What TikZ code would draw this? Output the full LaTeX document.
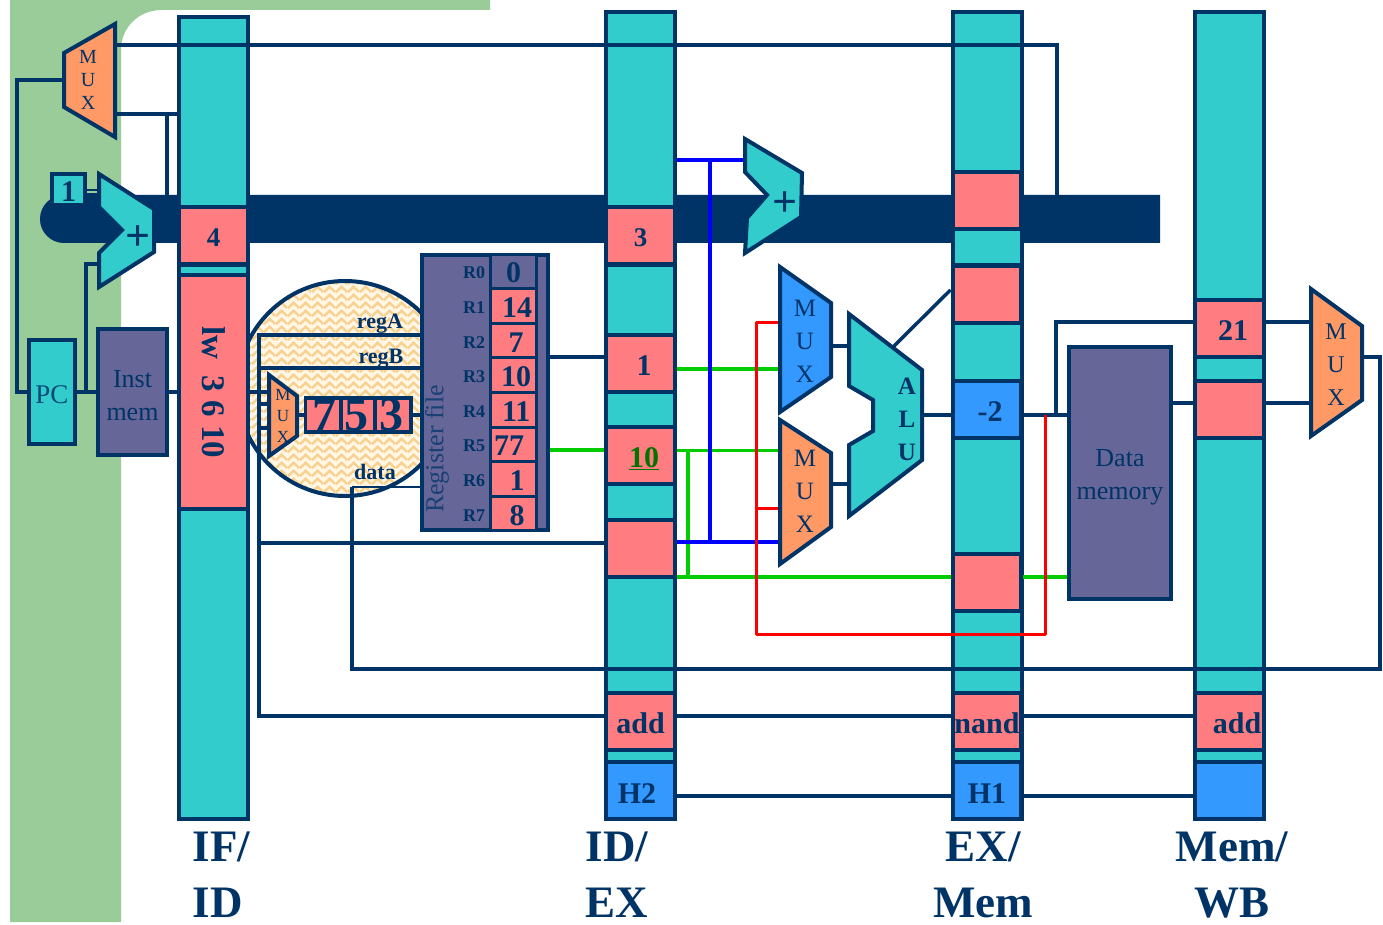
\documentclass[tikz,border=0pt]{standalone}
\usepackage{fontspec}
\setmainfont{Liberation Serif}
\usepackage{xcolor}
\usetikzlibrary{patterns}
\definecolor{PipeNavy}{RGB}{0,51,102}
\definecolor{PipeTeal}{RGB}{51,204,204}
\definecolor{PipeRose}{RGB}{255,124,128}
\definecolor{PipeOrange}{RGB}{255,153,102}
\definecolor{PipeBlue}{RGB}{51,153,255}
\definecolor{PipeSlate}{RGB}{102,102,153}
\definecolor{PipeSage}{RGB}{153,204,153}
\definecolor{PipeCream}{RGB}{255,246,230}
\definecolor{PipeWeave}{RGB}{249,208,140}
\definecolor{PipeGreen}{RGB}{0,204,0}
\newcommand{\fs}[2]{\fontsize{#1}{#2}\selectfont}
\pgfdeclarepatternformonly{weave}{\pgfqpoint{0pt}{0pt}}{\pgfqpoint{12pt}{8pt}}{\pgfqpoint{12pt}{8pt}}{
  \pgfsetlinewidth{2.6pt}
  \pgfpathmoveto{\pgfqpoint{0pt}{1pt}}\pgfpathlineto{\pgfqpoint{6pt}{7pt}}\pgfpathlineto{\pgfqpoint{12pt}{1pt}}
  \pgfusepath{stroke}}

\begin{document}
\begin{tikzpicture}[
    x=1pt, y=-1pt,
    latch/.style={rectangle, draw=PipeNavy, line width=4pt, fill=PipeTeal, inner sep=0pt, minimum width=69pt},
    cell/.style={rectangle, draw=PipeNavy, line width=4pt, inner sep=0pt, minimum width=69pt, minimum height=57pt,
                 text=PipeNavy, text height=25pt, text depth=0pt, font=\bfseries\fs{30}{30}},
    redcell/.style={cell, fill=PipeRose},
    bluecell/.style={cell, fill=PipeBlue},
    slatebox/.style={rectangle, draw=PipeNavy, line width=4pt, fill=PipeSlate, inner sep=0pt, align=center,
                     text=PipeNavy, font=\fs{26}{33}},
    regcell/.style={rectangle, draw=PipeNavy, line width=3pt, fill=PipeRose, inner sep=0pt, minimum width=46pt,
                    minimum height=34.6pt, text=PipeNavy, text height=23pt, text depth=0pt, font=\bfseries\fs{30}{30}},
    regname/.style={text=PipeNavy, inner sep=0pt, font=\bfseries\fs{18}{18}},
    opcell/.style={rectangle, draw=PipeNavy, line width=3.5pt, fill=PipeRose, inner sep=0pt, minimum height=34pt,
                   text=PipeNavy, font=\bfseries\fs{48}{34}},
    sigtext/.style={text=PipeNavy, inner sep=0pt, font=\bfseries\fs{22}{22}},
    unit/.style={draw=PipeNavy, line width=4pt},
    muxtext/.style={text=PipeNavy, inner sep=0pt, align=center, font=\fs{25}{33}},
    plustext/.style={text=PipeNavy, inner sep=0pt, font=\bfseries\fs{44}{44}},
    stage/.style={text=PipeNavy, inner sep=0pt, font=\bfseries\fs{45}{56}},
    wire/.style={draw=PipeNavy, line width=3.5pt},
    fwdgreen/.style={draw=PipeGreen, line width=4pt},
    fwdblue/.style={draw=blue, line width=4pt},
    fwdred/.style={draw=red, line width=3pt, line join=round}
]
\useasboundingbox (0,0) rectangle (1383,925);

% backdrop
\fill[PipeSage] (10,0) -- (490,0) -- (490,10) -- (162,10) .. controls (138,10) and (121,28) .. (121,50) -- (121,922) -- (10,922) -- cycle;
\fill[PipeNavy] (1160,195) [rounded corners=23.9pt] -- (40,195) -- (40,243) [sharp corners] -- (1160,243) -- cycle;
\node[circle, draw=PipeNavy, line width=4pt, minimum size=215pt, inner sep=0pt, preaction={fill=PipeCream},
      pattern=weave, pattern color=PipeWeave] (decode) at (345,388.5) {};

% pipeline latches
\node[latch, minimum height=802pt] (ifid) at (213.5,418) {};
\node[latch, minimum height=807pt] (idex) at (640.5,415.5) {};
\node[latch, minimum height=807pt] (exmem) at (987,415.5) {};
\node[latch, minimum height=807pt] (memwb) at (1229.5,415.5) {};

% wire ends
\coordinate (pcmuxr) at (115,80);
\coordinate (pcmuxl) at (64,80);
\coordinate (pcback) at (17,392);
\coordinate (pcjoin) at (86,392);
\coordinate (addlow) at (98,264);
\coordinate (bandhit) at (1057,195);
\coordinate (tapa) at (167,195);
\coordinate (regbus) at (259,716);
\coordinate (databus) at (352,669);
\coordinate (regl) at (421,392);
\coordinate (regr) at (549,392);
\coordinate (muxsin) at (269,392);
\coordinate (muxsout) at (297,415);
\coordinate (branchin) at (745,160);
\coordinate (bluebus) at (710,542);
\coordinate (muxal) at (780,369);
\coordinate (muxar) at (831,346);
\coordinate (muxbr) at (831,484);
\coordinate (alul) at (849,346);
\coordinate (alur) at (922,415);
\coordinate (alutop) at (893,347);
\coordinate (memjoin) at (1056,415);
\coordinate (greenbus) at (688,577);
\coordinate (redr) at (1045,415);
\coordinate (redl) at (756,634);
\coordinate (wbl) at (1311,357);
\coordinate (wbr) at (1362,357);
\coordinate (wbturn) at (1380,669);

% left part
\node[rectangle, draw=PipeNavy, line width=4pt, fill=PipeTeal, inner sep=0pt, minimum width=46pt, minimum height=104pt,
      text=PipeNavy!85!PipeTeal, text height=22pt, text depth=0pt, font=\fs{27}{27}] (pc) at (52,392) {PC};
\node[slatebox, minimum width=69pt, minimum height=126pt] (imem) at (132.5,392) {\rule{0pt}{24pt}Inst\\mem};
\node[cell, fill=PipeTeal, minimum width=33pt, minimum height=31pt, text height=23pt] (one) at (68.5,190) {1};
\node[slatebox, minimum width=102pt, minimum height=252pt] (dmem) at (1120,473) {\rule{0pt}{25pt}Data\\memory};

% navy wires
\draw[wire] (pcmuxr |- 0,45) -| (bandhit);
\draw[wire] (pcmuxr |- 0,114) -- (ifid.west |- 0,114);
\draw[wire] (tapa |- 0,114) -- (tapa);
\draw[wire] (pcmuxl) -| (pcback) -- (pc.west |- pcback);
\draw[wire] (pc) -- (imem);
\draw[wire] (imem.east) -- (imem.east -| ifid.west);
\draw[wire] (addlow) -| (pcjoin);
\draw[line width=1.8pt, draw=PipeNavy, double=PipeSage, double distance=2pt] (one.east |- 0,192) -- (addlow |- 0,192);
\draw[wire] (regl |- 0,335) -| (regbus) -- (idex.west |- regbus);
\draw[wire] (regbus |- 0,368) -- (regl |- 0,368);
\draw[wire] (regbus |- 0,543) -- (idex.west |- 0,543);
\draw[wire] (ifid.east |- 0,392) -- (muxsin);
\draw[wire] (regbus |- 0,404) -- (muxsin |- 0,404);
\draw[wire] (regbus |- 0,428) -- (muxsin |- 0,428);
\draw[wire] (regr |- 0,357) -- (idex.west |- 0,357);
\draw[wire] (wbr) -| (wbturn) -- (databus) -- (databus |- 0,487);
\draw[wire, line width=2.5pt] (databus |- 0,487) -- (regl |- 0,487);
\draw[wire] (alutop) -- (exmem.west |- 0,290);
\draw[wire] (alur) -- (exmem.west |- alur);
\draw[wire] (muxar) -- (alul);
\draw[wire] (muxbr) -- (alul |- muxbr);
\draw[wire] (exmem.east |- alur) -- (dmem.west |- alur);
\draw[wire] (memjoin) |- (memwb.west |- 0,322);
\draw[wire] (memwb.east |- 0,322) -- (wbl |- 0,322);
\draw[wire] (dmem.east |- 0,403) -- (memwb.west |- 0,403);
\draw[wire] (memwb.east |- 0,403) -- (wbl |- 0,403);
\draw[wire] (idex.east |- 0,716) -- (exmem.west |- 0,716);
\draw[wire] (exmem.east |- 0,716) -- (memwb.west |- 0,716);
\draw[wire] (idex.east |- 0,796) -- (exmem.west |- 0,796);
\draw[wire] (exmem.east |- 0,796) -- (memwb.west |- 0,796);

% forwarding wires
\draw[fwdgreen] (regr |- 0,450) -- (idex.west |- 0,450);
\draw[fwdgreen] (idex.east |- muxal) -- (muxal);
\draw[fwdgreen, line width=3pt] (idex.east |- 0,450) -- (muxal |- 0,450);
\draw[fwdgreen] (greenbus |- 0,450) -- (greenbus);
\draw[fwdgreen] (idex.east |- greenbus) -- (dmem.west |- greenbus);
\draw[fwdblue] (idex.east |- branchin) -- (branchin);
\draw[fwdblue] (bluebus |- branchin) -- (bluebus);
\draw[fwdblue] (idex.east |- bluebus) -- (muxal |- bluebus);
\draw[fwdred] (redr) |- (redl) |- (muxal |- 0,322);
\draw[fwdred] (redl |- 0,508) -- (muxal |- 0,508);

% latch fields
\node[redcell, text height=22pt, font=\bfseries\fs{27}{27}] (ifid4) at (213.5,236) {4};
\node[redcell, minimum height=234pt, text height=, text depth=, font=\bfseries\fs{33}{33}] (ifidinst) at (213.5,392) {\rotatebox{-90}{lw\ \ 3 6 10}};
\node[redcell, text height=22pt, font=\bfseries\fs{27}{27}] (idex3) at (640.5,236) {3};
\node[redcell] (idexa) at (640.5,363) {\hspace{7pt}1};
\node[redcell, text=green!45!black] (idexb) at (640.5,455) {\hspace{7pt}\underline{10}};
\node[redcell] (idexc) at (640.5,548) {};
\node[redcell] (idexop) at (640.5,721) {add};
\node[bluecell] (idexh) at (640.5,790.5) {\hspace{-7pt}H2};
\node[redcell, minimum width=68pt] (exmem1) at (987,201) {};
\node[redcell, minimum width=68pt] (exmem2) at (987,294) {};
\node[bluecell, minimum width=68pt] (exmemr) at (987,409) {\hspace{6pt}-2};
\node[redcell, minimum width=68pt] (exmem3) at (987,582) {};
\node[redcell, minimum width=68pt] (exmemop) at (987,721) {nand};
\node[bluecell, minimum width=68pt] (exmemh) at (987,790.5) {H1};
\node[redcell] (memwbr) at (1229.5,328) {\hspace{7pt}21};
\node[redcell] (memwb2) at (1229.5,409) {};
\node[redcell] (memwbop) at (1229.5,721) {\hspace{15pt}add};
\node[bluecell] (memwbh) at (1229.5,790.5) {};

% muxes, adders, alu
\draw[unit, fill=PipeOrange] (115,24) -- (64,53) -- (64,107) -- (115,137) -- cycle;
\node[muxtext, font=\fs{20}{23}] (muxp) at (88,80) {M\\U\\X};
\draw[unit, fill=PipeTeal] (99,174) -- (154,209) -- (154,252) -- (99,287) -- (99,253) -- (122,230) -- (99,207) -- cycle;
\node[plustext] (addif) at (138,238) {+};
\draw[unit, fill=PipeTeal] (745,139) -- (802,173) -- (801,217) -- (745,253) -- (747,218) -- (767,195) -- (745,172) -- cycle;
\node[plustext] (addex) at (785,204) {+};
\draw[unit, fill=PipeBlue] (780,267) -- (831,303) -- (831,377) -- (780,412) -- cycle;
\node[muxtext] (muxa) at (805,341) {M\\U\\X};
\draw[unit, fill=PipeOrange] (780,420) -- (831,453) -- (831,527) -- (780,564) -- cycle;
\node[muxtext] (muxb) at (805,491) {M\\U\\X};
\draw[unit, fill=PipeTeal] (849,314) -- (922,370) -- (922,460) -- (849,516) -- (849,445) -- (873,431) -- (873,400) -- (849,386) -- cycle;
\node[muxtext, font=\bfseries\fs{25}{33}] (alu) at (907,419) {A\\L\\U};
\draw[unit, fill=PipeOrange] (1311,289) -- (1362,326) -- (1362,400) -- (1311,436) -- cycle;
\node[muxtext, font=\fs{24}{33}] (muxw) at (1336,365) {M\\U\\X};
\draw[unit, fill=PipeOrange] (269,375) -- (297,396) -- (297,436) -- (269,456) -- cycle;
\node[muxtext, font=\fs{17}{21}] (muxs) at (283,416) {M\\U\\X};

% operand fields in the decoder
\node[opcell, minimum width=35.5pt] (op7) at (323.2,415) {\hspace{3pt}7};
\node[opcell, minimum width=34pt] (op5) at (358,415) {\hspace{-4pt}5};
\node[opcell, minimum width=36pt] (op3) at (393,415) {\hspace{-3pt}3};
\draw[wire] (muxsout) -- (op7);
\draw[wire] (op3) -- (regl |- op3);
\node[sigtext] (rega) at (380,324) {regA};
\node[sigtext] (regb) at (381,359) {regB};
\node[sigtext] (datasig) at (375,472) {data};

% register file
\node[slatebox, minimum width=126pt, minimum height=275.5pt] (regfile) at (485,392.3) {};
\node[rotate=90, inner sep=0pt, text=PipeNavy!75!PipeSlate, font=\fs{26}{26}] (regtitle) at (437,449) {Register file};
\node[regcell, fill=PipeSlate] (r0) at (513.7,271.4) {0};
\node[regcell] (r1) at (513.7,306) {\hspace{7pt}14};
\node[regcell] (r2) at (513.7,340.6) {\hspace{5pt}7};
\node[regcell] (r3) at (513.7,375.2) {\hspace{5pt}10};
\node[regcell] (r4) at (513.7,409.8) {\hspace{5pt}11};
\node[regcell] (r5) at (513.7,444.4) {\hspace{-9pt}77};
\node[regcell] (r6) at (513.7,479) {\hspace{7pt}1};
\node[regcell] (r7) at (513.7,513.6) {\hspace{7pt}8};
\node[regname] (n0) at (474,273) {R0};
\node[regname] (n1) at (474,308) {R1};
\node[regname] (n2) at (474,342.5) {R2};
\node[regname] (n3) at (474,377) {R3};
\node[regname] (n4) at (474,411.5) {R4};
\node[regname] (n5) at (474,446) {R5};
\node[regname] (n6) at (474,481) {R6};
\node[regname] (n7) at (474,515.5) {R7};

% stage names
\node[stage, align=left] (ifidname) at (221.7,875) {IF/\\ID};
\node[stage, align=left] (idexname) at (617,875) {ID/\\EX};
\node[stage, align=center] (exmemname) at (983,875) {EX/\\Mem};
\node[stage, align=center] (memwbname) at (1232,875) {Mem/\\WB};
\end{tikzpicture}
\end{document}
